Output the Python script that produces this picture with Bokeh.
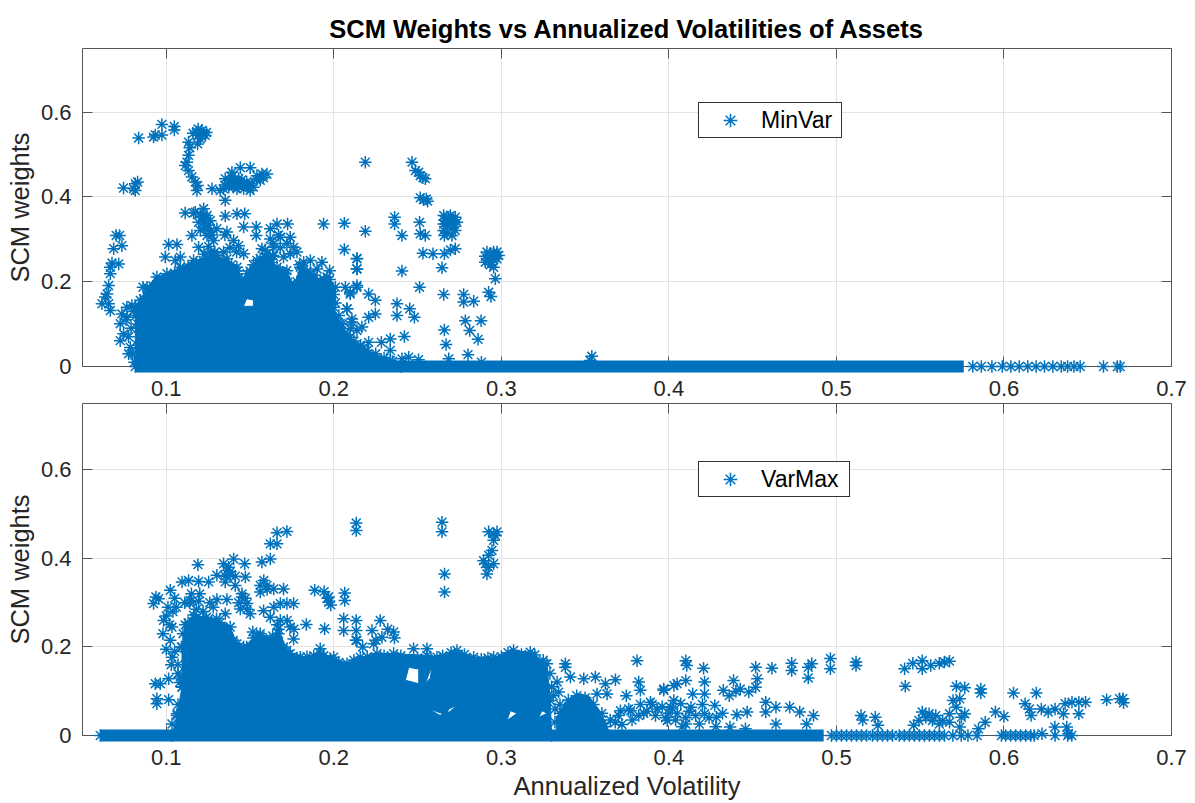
from bokeh.plotting import figure
from bokeh.layouts import column
from bokeh.models import Range1d, LinearAxis, FixedTicker, Legend, LegendItem
from bokeh.embed import file_html
from bokeh.resources import INLINE

BLUE = "#0072BD"
vol_ticks = [0.1, 0.2, 0.3, 0.4, 0.5, 0.6, 0.7]
w_ticks = [0, 0.2, 0.4, 0.6]

# ---------- MinVar: individually readable points ----------
minvar_vol = [.0835,.0924,.0934,.0974,.0974,.1048,.1048,.118,.1213,.1233,.1203,.1187,.114,.1133,.1123,.1113,.1133,.1133,.1153,.1173,.1183,.1187,
 .1273,.1322,.1352,.1352,.1392,.1442,.1501,.1402,.1442,.1482,.1501,.1372,.1422,.1462,.1511,.1342,.138,.1432,.1561,.1571,.1601,.1541,
 .0745,.0805,.0815,.0829,.0815,.0701,.0686,.0735,.0721,.0666,.0716,.0676,.0666,.0656,.0646,.0616,.0636,.0666,.0656,.0735,.0725,.0725,.0745,.0775,.0765,.0795,.0765,
 .0861,.0994,.1014,.1064,.1084,.1054,.1113,.1173,.1223,.1203,.1243,.1223,.1253,.1203,.1153,.1243,.1302,.1283,.1193,.1253,.1352,.1422,.1468,.1462,.1537,.1537,.1362,.1402,.1432,.1342,.1462,
 .1621,.1661,.1724,.1621,.1681,.174,.1571,.1641,.176,.17,.174,.1939,.2063,.2063,.2138,.2138,.2138,.2069,.2098,.2079,.2108,.2138,.182,.1929,.1975,
 .2188,.2467,.2487,.2506,.2532,.2516,.2546,.2516,.2552,.256,.2536,.2656,.2686,.2725,.2656,.2719,.2656,.2725,.266,.2705,.2696,.2676,
 .2188,.2363,.2363,.2407,.2512,.2516,.2546,.2138,.2138,.2407,.2646,.2532,.2592,.266,.2696,.2725,.2512,.2656,.2775,.2775,.2835,.2924,.2938,
 .2914,.2974,.2904,.2944,.2974,.2954,.2964,.2934,.2138,.2098,.2208,.2248,.2079,.2248,.2108,.2208,.2168,.2098,.2377,.2377,.2453,.2481,.2421,.2337,.2208,.2284,.2337,
 .266,.267,.2686,.2785,.2879,.2811,.2861,.2801,.2881,.2447,.2407,.2506,.354,.353,
 # edge of the dense cloud
 .083,.083,.082,.085,.0865,.09,.092,.095,.098,.102,.105,.11,.113,.118,.122,.127,.131,.135,.139,.1425,.1445,.1465,.15,.152,.156,.16,.163,.168,.171,.1745,.178,.181,.184,.188,.19,.194,.1975,.2,.201,.203,.205,.208,.212,.216,.22,.225,.23,.235,
 .079,.0775,.08,.081,.0785,.076,.0805,.0835,.1225,.1265,.1305,.159,.1635,.1795,
 # tight groups
 .119,.122,.119,.116,.124,.121,.14,.143,.146,.149,.137,.135,.141,.145,.148,.152,.139,.154,.158,
 .2676,.2695,.2715,.266,.2675,.2705,.2735,.2924,.2944,.2964,.2934,.2984,.2904,.2954,
 .1213,.1233,.1263,.1193,.1273,.1163,.1233,.1263,.135,.138,.129,.142,.164,.167,.172,.178,.168,.164,.186,.19]
minvar_w = [.539,.541,.546,.546,.571,.566,.558,.553,.557,.545,.537,.525,.516,.529,.482,.474,.498,.462,.447,.435,.415,.427,
 .419,.415,.392,.443,.458,.469,.469,.435,.431,.427,.415,.423,.419,.419,.431,.419,.439,.443,.439,.454,.454,.45,
 .421,.419,.431,.435,.415,.309,.278,.285,.309,.234,.242,.244,.219,.191,.171,.148,.164,.132,.148,.124,.101,.061,.077,.03,.14,.144,.116,
 .187,.258,.288,.288,.258,.25,.362,.364,.372,.36,.356,.34,.333,.321,.309,.309,.325,.297,.281,.283,.355,.36,.36,.329,.329,.309,.317,.297,.285,.27,.266,
 .325,.336,.336,.301,.305,.305,.278,.281,.281,.258,.266,.336,.338,.276,.254,.23,.187,.187,.175,.136,.112,.085,.246,.246,.226,
 .482,.482,.462,.458,.445,.45,.443,.398,.395,.39,.393,.356,.352,.352,.336,.336,.321,.321,.309,.309,.356,.344,
 .319,.352,.336,.309,.34,.313,.309,.255,.23,.225,.233,.267,.266,.266,.275,.278,.187,.17,.17,.152,.154,.175,.165,
 .27,.27,.246,.258,.254,.234,.207,.262,.191,.171,.171,.156,.136,.124,.105,.116,.093,.089,.148,.12,.136,.116,.071,.065,.057,.057,.038,
 .086,.052,.018,.108,.108,.085,.064,.028,.01,.022,.018,.016,.024,.014,
 .10,.05,.12,.14,.16,.175,.19,.20,.205,.21,.22,.225,.235,.245,.25,.25,.25,.245,.24,.225,.2,.195,.225,.24,.255,.255,.245,.225,.22,.195,.2,.23,.225,.215,.2,.205,.205,.17,.15,.12,.10,.075,.06,.05,.038,.03,.02,.012,
 .09,.07,.03,.01,.045,.11,.13,.09,.265,.27,.262,.275,.262,.24,
 .545,.55,.56,.55,.552,.543,.425,.425,.428,.425,.43,.428,.44,.44,.435,.423,.447,.44,.445,
 .33,.34,.345,.345,.315,.325,.34,.25,.245,.26,.24,.262,.26,.27,
 .352,.35,.344,.34,.31,.362,.328,.32,.31,.28,.27,.27,.29,.31,.29,.27,.28,.26,.25,.23]

# Stars of the y = 0 row that stay separate at the high-volatility end
minvar_row_vol = [.5814,.5865,.5928,.5990,.6041,.6091,.6142,.6192,.6242,.6292,.6342,.6380,.6418,.6455,.6594,.6677,.6694]
minvar_row_w = [0] * len(minvar_row_vol)

# Overplotted part of the cloud: outline
minvar_cloud_vol = [.0815,.0815,.0845,.0885,.0944,.1004,.1084,.1163,.1263,.1362,.1422,.1452,.1482,.1541,.1601,.1661,.172,.176,.18,.186,.1919,.1959,.2009,.1999,.2039,.2098,.2158,.2337,.24]
minvar_cloud_w = [0,.14,.156,.187,.211,.219,.234,.25,.259,.254,.234,.203,.219,.25,.266,.234,.226,.187,.234,.219,.203,.211,.187,.14,.101,.069,.046,.014,0]
minvar_hole_vol = [.146,.152,.152,.148]
minvar_hole_w = [.142,.142,.157,.16]
minvar_band_vol = [.0815,.576]
minvar_band_w = [0,0]

# ---------- VarMax ----------
varmax_vol = [.1189,.0938,.0924,.0954,.1024,.1094,.1133,.1193,.1253,.1302,.1342,.1402,.1362,.1382,.1352,.1412,.1468,.1472,.1302,.1362,.1193,.1143,
 .1571,.1621,.1621,.1661,.1661,.172,.1561,.1601,.1641,.17,.1561,.1452,.1482,.1442,.1501,.1352,.1581,.1621,.1681,.1681,.176,.172,.174,
 .1836,.1945,.1886,.1969,.1969,.2065,.2065,.2059,.2059,.2134,.2134,.2138,.1919,.176,.1517,.2134,.2134,
 .1034,.1024,.1034,.0984,.0934,.1014,.0964,.0944,.1014,.0944,.1034,.1064,.1094,.1084,
 .381,.382,.383,.3382,.3412,.3333,.3342,.3492,.3561,.3621,.3681,.3571,.3631,.3746,.3969,.4049,.3591,.3711,.3771,.389,.4029,
 .365,.37,.376,.383,.39,.396,.402,.36,.35,.385,.392,.398,.405,.41,
 .4101,.4107,.4207,.4518,.4615,.4733,.4733,.4853,.4832,.4832,.4964,.4964,.5117,.5117,.5407,.5411,.5456,.5512,.5512,.5614,.5675,.5563,.5644,
 .5716,.5766,.5862,.5862,.6057,.6193,.6126,.6152,.6162,.6223,.6264,.6305,.6365,.6355,.6447,.6447,.6487,.6406,.6613,.671,.6714,.669,
 .5949,.6,.5888,.5848,.5147,.5157,.5232,.5248,.5512,.5553,.5593,.5492,.5634,.5675,.5696,.5736,.5716,.5746,.5766,.5736,.5462,.5533,.5573,.5614,.5675,
 .6304,.6375,.6386,.6227,.4578,.4578,.4639,.4721,.4781,.4863,.4639,.4822,.4406,.4467,.4386,.4426,.4477,.4528,.4518,.4325,
 .4213,.4213,.4101,.403,.3969,.4142,.4071,.4132,.4101,.4274,.4284,.4213,.4182,.4365,.4457,.401,.399,
 # isolated groups near 0.21-0.30
 .2646,.2646,.2661,.2661,.2954,.2924,.2974,.2964,.2954,.2944,.2924,.2904,.2954,.2914,.2924,.2894,
 .2277,.2228,.2357,.2287,.2238,.2476,.2556,.3382,
 # edge of the dense cloud
 .107,.108,.107,.109,.11,.113,.117,.122,.127,.132,.136,.14,.144,.148,.152,.156,.16,.1635,.167,.17,.174,.178,.184,.188,.194,.198,.203,.207,.212,.22,.23,.24,.25,.258,.265,.27,.278,.288,.292,.3,.304,.312,.32,.325,.329,.33,.331,.332,.332,
 .335,.34,.345,.35,.355,.36,.335,.338,.346,.352,.358,.362,.368,.372,.378,.382,.387,.393,.4,.404,.408,.412,.416,.42,.424,.428,.432,.436,.44,
 .1,.102,.104,.106,.098,.1,.103,.105,.107,.101,.105,.111,.114,.118,.122,
 # tight groups
 .1382,.1352,.1412,.1372,.1452,.1472,.1432,.1482,.1582,.1602,.1642,.1662,.1722,.1762,.1962,.1982,.1942,.2132,.2172,.2252,.2322,.2362,.12,.126,.115,.128,.0606]
varmax_w = [.386,.313,.298,.309,.328,.347,.35,.348,.347,.362,.388,.399,.373,.362,.347,.339,.388,.358,.307,.307,.303,.305,
 .392,.399,.433,.433,.458,.461,.339,.339,.331,.331,.324,.313,.298,.286,.275,.275,.282,.267,.26,.298,.298,.298,.245,
 .251,.241,.328,.313,.301,.322,.305,.264,.237,.26,.237,.215,.196,.218,.234,.48,.463,
 .177,.215,.245,.26,.117,.128,.117,.083,.081,.072,.026,.049,.109,.132,
 .169,.121,.102,.162,.132,.121,.098,.128,.132,.117,.126,.094,.094,.09,.102,.117,.034,.056,.056,.075,.079,
 .035,.045,.06,.07,.07,.065,.06,.02,.03,.05,.045,.04,.05,.04,
 .169,.158,.152,.154,.152,.163,.147,.162,.154,.13,.174,.151,.166,.158,.151,.111,.163,.169,.151,.163,.168,.158,.166,
 .111,.108,.105,.096,.096,.096,.072,.06,.045,.06,.053,.06,.072,.049,.075,.049,.075,.075,.081,.083,.074,.083,
 .053,.043,.03,.015,.045,.035,.041,.023,.053,.049,.045,.034,.034,.049,.079,.083,.064,.041,.049,.019,.023,.041,.034,.026,.03,
 .019,.019,.004,.004,.075,.053,.064,.064,.053,.045,.026,.026,.047,.053,.124,.105,.098,.128,.109,.102,
 .121,.094,.124,.113,.105,.094,.072,.064,.026,.068,.041,.049,.026,.019,.015,.064,.034,
 .482,.46,.365,.324,.456,.46,.46,.452,.441,.418,.407,.388,.388,.365,.38,.395,
 .26,.237,.234,.222,.207,.196,.196,.154,
 .07,.12,.16,.2,.23,.255,.265,.262,.258,.255,.24,.215,.195,.2,.22,.225,.215,.225,.23,.2,.185,.175,.178,.18,.18,.173,.165,.155,.17,.178,.18,.18,.175,.172,.18,.187,.183,.172,.175,.178,.187,.183,.182,.17,.14,.11,.09,.06,.03,
 .07,.08,.09,.085,.07,.05,.05,.045,.05,.06,.03,.02,.03,.025,.035,.045,.055,.06,.05,.035,.02,.055,.045,.07,.04,.02,.05,.09,.1,
 .27,.25,.28,.29,.23,.195,.16,.19,.14,.29,.31,.3,.3,.285,.28,
 .37,.36,.36,.38,.32,.31,.30,.285,.35,.33,.29,.25,.26,.24,.31,.295,.325,.215,.2,.215,.24,.22,.32,.3,.32,.29,0]

varmax_row_vol = [.497,.5,.503,.506,.509,.512,.515,.518,.5215,.5245,.5275,.5305,.5335,.5375,.5405,.5435,.5465,.5495,.5525,.5555,.5585,.5615,.5645,.5695,.5745,.5785,.584,.5985,.601,.604,.607,.61,.613,.616,.618,.6305,.638,.6405]
varmax_row_w = [0] * len(varmax_row_vol)

varmax_cloud_vol = [.1034,.1064,.1094,.1094,.1113,.1163,.124,.13,.1382,.1422,.1462,.1561,.1641,.167,.172,.18,.1919,.1999,.2079,.2158,.2258,.2357,.2556,.2616,.2735,.2835,.2954,.3073,.3173,.3272,.3292,.33]
varmax_cloud_w = [0,.045,.11,.2,.25,.272,.267,.264,.245,.207,.2,.23,.218,.24,.192,.177,.185,.177,.162,.177,.185,.185,.181,.177,.192,.177,.177,.192,.188,.162,.079,0]
varmax_holes_vol = [[.2427,.2507,.2507,.2447],[.2546,.2586,.2576,.2552],[.2566,.2646,.2636],[.2676,.2736,.2686],[.3034,.3094,.3054],[.3223,.3273,.3243]]
varmax_holes_w = [[.125,.117,.15,.154],[.117,.158,.13,.12],[.06,.05,.045],[.049,.068,.06],[.034,.05,.056],[.041,.05,.056]]
varmax_blob_vol = [.333,.333,.338,.345,.352,.358,.362,.365]
varmax_blob_w = [0,.04,.075,.095,.09,.06,.03,0]
varmax_band_vol = [.0606,.4924]
varmax_band_w = [0,0]


def panel(w_top_border, frame_h, bottom_border, xlabel, title=None):
    p = figure(width=1187, height=w_top_border + frame_h + bottom_border,
               frame_width=1089, frame_height=frame_h,
               x_range=Range1d(0.05, 0.7), y_range=Range1d(0, 0.75),
               output_backend="svg", toolbar_location=None,
               min_border_left=82, min_border_right=16,
               min_border_top=w_top_border, min_border_bottom=bottom_border,
               title=title)
    p.outline_line_color = None
    p.background_fill_color = "white"
    for ax, ticks in ((p.xaxis[0], vol_ticks), (p.yaxis[0], w_ticks)):
        ax.ticker = FixedTicker(ticks=ticks)
        ax.major_tick_in = 10
        ax.major_tick_out = 0
        ax.minor_tick_in = 0
        ax.minor_tick_out = 0
        ax.axis_line_color = "#555555"
        ax.major_tick_line_color = "#555555"
        ax.major_label_text_font = "Liberation Sans"
        ax.major_label_text_font_size = "22px"
        ax.major_label_text_color = "#262626"
        ax.axis_label_text_font = "Liberation Sans"
        ax.axis_label_text_font_size = "25.5px"
        ax.axis_label_text_font_style = "normal"
        ax.axis_label_text_color = "#262626"
    p.xaxis[0].major_label_standoff = 14
    p.xaxis[0].major_label_text_line_height = 1.0
    p.yaxis[0].major_label_standoff = 11
    p.yaxis[0].axis_label = "SCM weights"
    p.yaxis[0].axis_label_standoff = 4
    p.yaxis[0].major_label_overrides = {0: "0", 0.2: "0.2", 0.4: "0.4", 0.6: "0.6"}
    if xlabel:
        p.xaxis[0].axis_label = xlabel
        p.xaxis[0].axis_label_standoff = 4
    p.xgrid[0].ticker = FixedTicker(ticks=vol_ticks)
    p.ygrid[0].ticker = FixedTicker(ticks=w_ticks)
    for g in (p.xgrid[0], p.ygrid[0]):
        g.grid_line_color = "#E4E4E4"
        g.grid_line_width = 1
    for side, ticks in (("above", vol_ticks), ("right", w_ticks)):
        a = LinearAxis(ticker=FixedTicker(ticks=ticks), major_tick_in=10, major_tick_out=0,
                       minor_tick_in=0, minor_tick_out=0, major_label_text_font_size="1px",
                       major_label_overrides={t: "" for t in ticks},
                       major_label_standoff=0, axis_line_color="#555555", major_tick_line_color="#555555")
        p.add_layout(a, side)
    if title:
        p.title.align = "center"
        p.title.text_font = "Liberation Sans"
        p.title.text_font_size = "25.5px"
        p.title.text_font_style = "bold"
        p.title.text_color = "black"
        p.title.standoff = 11
    return p


def stars(p, xs, ys):
    return p.scatter(xs, ys, marker="asterisk", size=12.5, line_color=BLUE, line_width=1.5, level="overlay")


def add_legend(p, r, name, x, y, w):
    lg = Legend(items=[LegendItem(label=name, renderers=[r])], location=(x, y),
                orientation="vertical", margin=0, padding=0, spacing=0,
                glyph_width=62, glyph_height=34, label_width=w, label_height=34, label_standoff=0,
                label_text_font="Liberation Sans", label_text_font_size="23px", label_text_color="black",
                border_line_color="#333333", border_line_alpha=1, border_line_width=1, background_fill_alpha=1)
    p.add_layout(lg)


# MinVar panel
p1 = panel(48, 318, 37, None, "SCM Weights vs Annualized Volatilities of Assets")
p1.multi_polygons(xs=[[[minvar_cloud_vol, minvar_hole_vol]]], ys=[[[minvar_cloud_w, minvar_hole_w]]],
                  fill_color=BLUE, line_color=BLUE, level="overlay")
p1.line(minvar_band_vol, minvar_band_w, line_width=12, line_color=BLUE, line_cap="butt", level="overlay")
r1 = stars(p1, minvar_vol + minvar_cloud_vol, minvar_w + minvar_cloud_w)
stars(p1, minvar_row_vol, minvar_row_w)
add_legend(p1, r1, "MinVar", 616, 228, 80)

# VarMax panel
p2 = panel(0, 332, 66, "Annualized Volatility")
p2.multi_polygons(xs=[[[varmax_cloud_vol] + varmax_holes_vol, [varmax_blob_vol]]],
                  ys=[[[varmax_cloud_w] + varmax_holes_w, [varmax_blob_w]]],
                  fill_color=BLUE, line_color=BLUE, level="overlay")
p2.line(varmax_band_vol, varmax_band_w, line_width=12, line_color=BLUE, line_cap="butt", level="overlay")
r2 = stars(p2, varmax_vol + varmax_cloud_vol, varmax_w + varmax_cloud_w)
stars(p2, varmax_row_vol, varmax_row_w)
add_legend(p2, r2, "VarMax", 616, 238, 88)

layout = column(p1, p2, spacing=0)
open("out.html", "w").write(file_html(layout, INLINE))
